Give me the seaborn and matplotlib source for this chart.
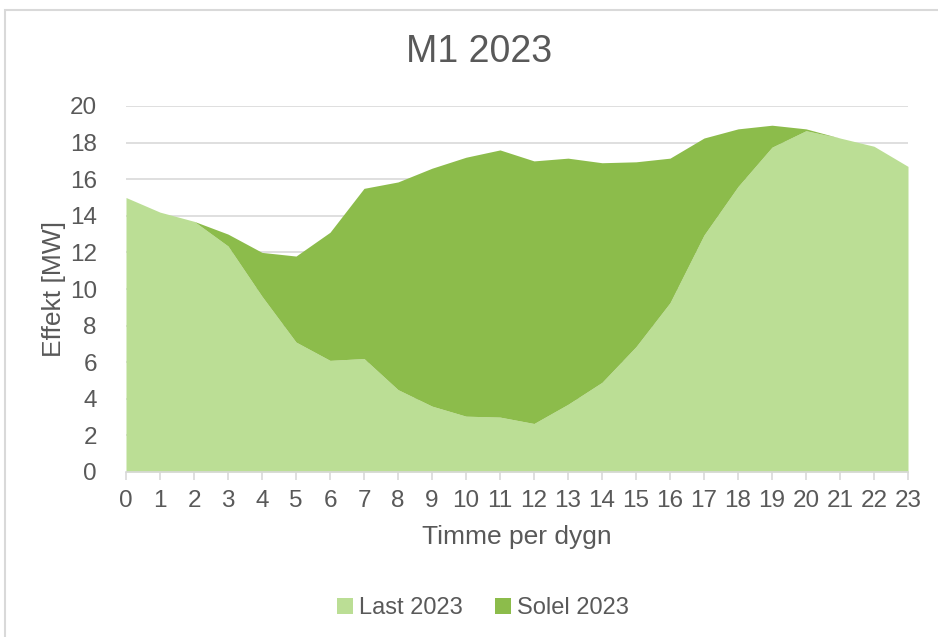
import numpy as np
import pandas as pd
import seaborn as sns
import matplotlib.pyplot as plt
from matplotlib.patches import Patch, Rectangle

# hourly profile
hours = list(range(24))
last_2023 = [15.0, 14.2, 13.7, 12.35, 9.6, 7.1, 6.1, 6.2, 4.5, 3.6, 3.05, 3.0,
             2.65, 3.7, 4.9, 6.85, 9.25, 12.95, 15.6, 17.75, 18.65, 18.25, 17.8, 16.7]
solel_2023 = [0.0, 0.0, 0.0, 0.65, 2.4, 4.7, 7.0, 9.3, 11.35, 13.0, 14.15, 14.6,
              14.35, 13.45, 12.0, 10.1, 7.9, 5.3, 3.15, 1.2, 0.1, 0.0, 0.0, 0.0]
series_names = ["Last 2023", "Solel 2023"]
colors = ["#BBDE95", "#8CBC4B"]

df = pd.DataFrame({"hour": hours, series_names[0]: last_2023, series_names[1]: solel_2023})

sns.set_theme(style="white")
plt.rcParams["font.family"] = ["Liberation Sans", "DejaVu Sans"]
text_color = "#595959"
grid_color = "#D9D9D9"

fig = plt.figure(figsize=(9.38, 6.37), dpi=100)
ax = fig.add_axes([126 / 938, 1 - 472 / 637, 782 / 938, 366 / 637])

# stacked areas: load at the bottom, solar on top
ax.stackplot(df["hour"], df[series_names[0]], df[series_names[1]],
             colors=colors, linewidth=0, zorder=2)

ax.set_xlim(0, 23)
ax.set_ylim(0, 20)
ax.set_xticks(hours)
ax.set_yticks(range(0, 21, 2))
ax.yaxis.grid(True, color=grid_color, linewidth=1.2, zorder=0)
ax.xaxis.grid(False)
ax.set_axisbelow(True)

for side in ["left", "right", "top"]:
    ax.spines[side].set_visible(False)
ax.spines["bottom"].set_color(grid_color)
ax.spines["bottom"].set_linewidth(1.2)
ax.spines["bottom"].set_zorder(3)

ax.tick_params(axis="x", bottom=True, length=6, width=1.2, color=grid_color,
               labelsize=17.5, labelcolor=text_color, pad=7)
ax.tick_params(axis="y", left=False, labelsize=17.5, labelcolor=text_color, pad=15)

ax.set_xlabel("Timme per dygn", fontsize=19, color=text_color, labelpad=9)
ax.set_ylabel("Effekt [MW]", fontsize=19, color=text_color, labelpad=3)

fig.text(479 / 938, 1 - 52 / 637, "M1 2023", fontsize=27, color=text_color,
         ha="center", va="center")

handles = [Patch(facecolor=c, edgecolor="none") for c in colors]
fig.legend(handles, series_names, loc="center", bbox_to_anchor=(483 / 938, 1 - 608 / 637),
           ncol=2, frameon=False, fontsize=17, labelcolor=text_color,
           handlelength=0.65, handleheight=0.65, handletextpad=0.25, columnspacing=1.4)

# chart border (Excel-style frame, cut off at right and bottom)
fig.patches.append(Rectangle((5 / 938, -0.05), 1.0, 1 - 10 / 637 + 0.05,
                             transform=fig.transFigure, fill=False,
                             edgecolor=grid_color, linewidth=1.5))

fig.savefig("out.png", dpi=100)
